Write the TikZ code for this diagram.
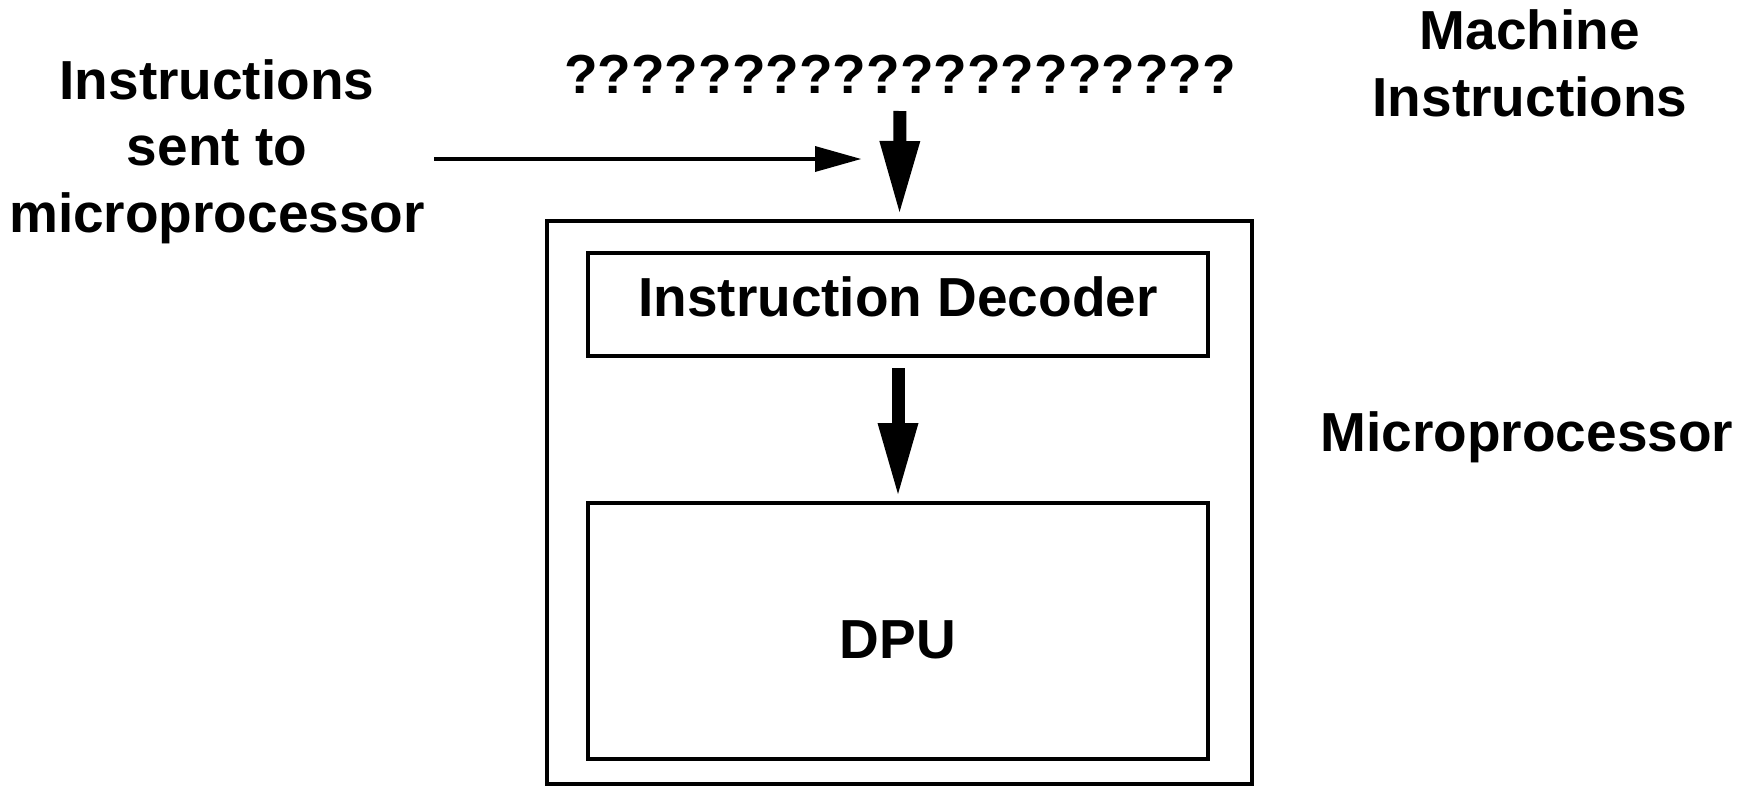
\documentclass[tikz,border=0pt]{standalone}
\usepackage{fontspec}
\setmainfont{Liberation Sans}
\usetikzlibrary{arrows.meta}
\tikzset{
  lbl/.style={font=\bfseries\fontsize{55}{66.5}\selectfont, inner sep=0pt, outer sep=0pt, align=center},
  boxstyle/.style={draw, line width=3.6pt, inner sep=0pt, outer sep=0pt, rectangle,
                   font=\bfseries\fontsize{55}{66.5}\selectfont},
  blockarrow/.style={line width=13pt, -{Triangle[length=71pt,width=41pt,line width=0pt]}},
  thinarrow/.style={line width=3.6pt, -{Triangle[length=46pt,width=26pt,line width=0pt]}}
}
\begin{document}
\begin{tikzpicture}[x=1pt,y=-1pt]
  \useasboundingbox (0,0) rectangle (1750,788);

  % side labels (base anchor sits on the last line)
  \node[lbl, anchor=base] (sent) at (217,232) {Instructions\\sent to\\microprocessor};
  \node[lbl, anchor=base] (mach) at (1530,116) {Machine\\Instructions};
  \node[lbl, anchor=base] (mplabel) at (1527,451) {Microprocessor};

  % instruction stream
  \node[lbl, anchor=base] (qs) at (900,93) {????????????????????};

  % microprocessor and its parts
  \node[boxstyle, minimum width=705pt, minimum height=563pt] (cpu) at (899.5,502.5) {};
  \node[boxstyle, minimum width=620pt, minimum height=103pt,
        text height=40pt, text depth=17pt] (dec) at (898,304.5) {Instruction Decoder};
  \node[boxstyle, minimum width=620pt, minimum height=256pt,
        text height=54pt, text depth=0pt] (dpu) at (898,631) {DPU};

  % connectors
  \draw[blockarrow, shorten <=18pt, shorten >=9pt] (qs.south) -- (cpu.north);
  \draw[blockarrow, shorten <=12pt, shorten >=9pt] (dec.south) -- (dpu.north);

  \coordinate (feedstart) at (434,159);
  \coordinate (feedend) at (861,159);
  \draw[thinarrow] (feedstart) -- (feedend);
\end{tikzpicture}
\end{document}
